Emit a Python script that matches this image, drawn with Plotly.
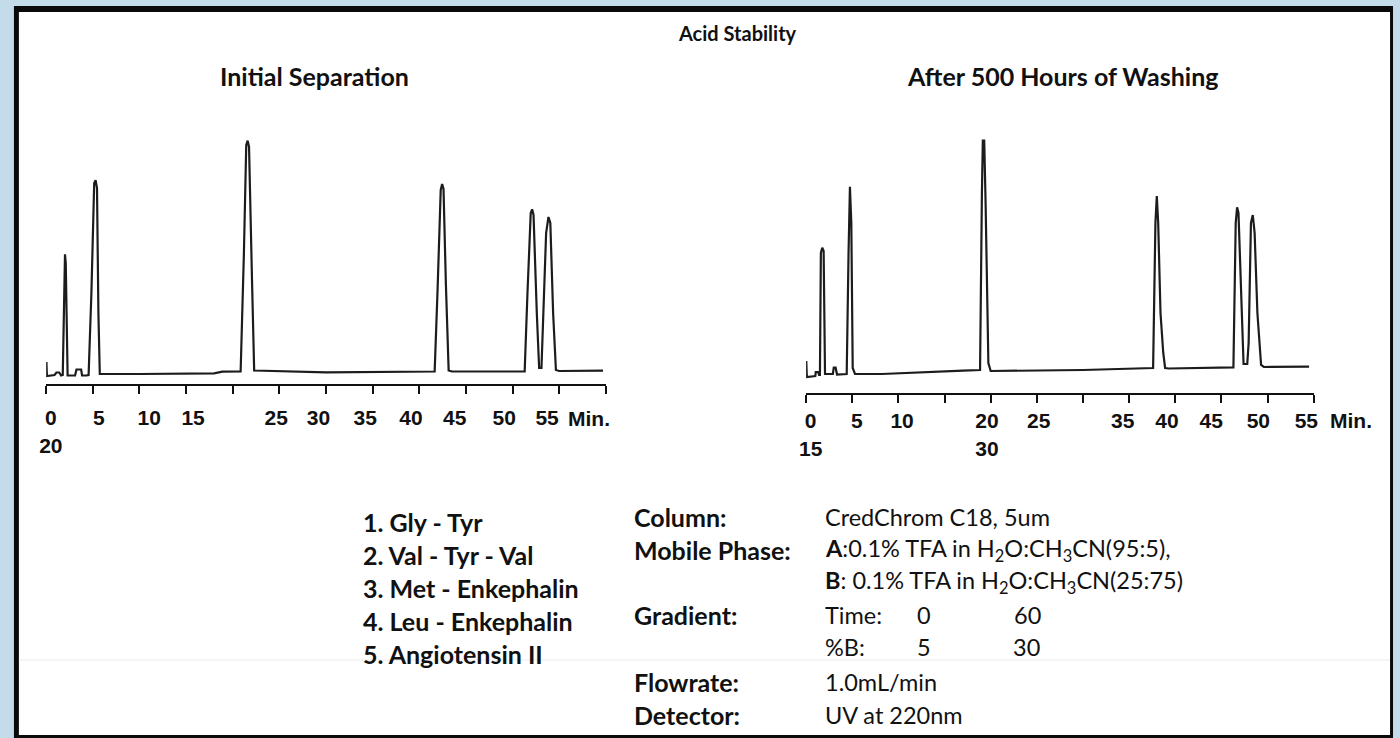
import plotly.graph_objects as go

W, H = 1400, 738

# ---------------- data ----------------
# Initial separation chromatogram: time (min) vs detector signal (arb. units)
left_time = [0.0, 0.03, 0.08, 0.9, 1.1, 1.4, 1.6, 1.78, 1.95, 2.02, 2.1, 2.3,
             3.1, 3.25, 3.75, 3.85, 4.3, 4.55, 4.85, 5.15, 5.3, 5.45, 5.6, 5.75,
             10.0, 15.0, 18.0, 18.9, 20.85, 21.2, 21.45, 21.6, 21.75, 22.05, 22.3,
             30.0, 41.65, 41.95, 42.3, 42.45, 42.6, 42.85, 43.15, 43.5,
             51.3, 51.6, 51.95, 52.1, 52.25, 52.6, 52.85, 53.1,
             53.2, 53.6, 53.85, 54.05, 54.35, 54.65, 55.0, 59.7]
left_signal = [-3, 11, -3, -2, 0.5, 0.5, -2.5, -2, 110, 118.7, 110, -2.5,
               -2.5, 3.5, 3.5, -2.5, -2.5, -2, 80, 190, 192.7, 185, 60, -1,
               -1, -1, -0.3, 1.3, 1.5, 120, 228, 232.3, 226, 100, 2.5,
               0.7, 1.5, 80, 183, 189, 184, 90, 2.5, 1.5,
               1.5, 80, 160, 163.7, 158, 60, 5, 5,
               30, 140, 156, 150, 60, 3, 2, 2.3]

# After 500 hours of washing
right_time = [0.0, 0.02, 0.08, 1.0, 1.05, 1.3, 1.4, 1.5, 1.6, 1.75, 1.9, 2.05,
              2.9, 3.0, 3.2, 3.35, 4.4, 4.6, 4.75, 4.9, 5.05, 5.3,
              8.2, 17.0, 18.85, 19.05, 19.15, 19.3, 19.45, 19.75, 20.0,
              30.0, 37.1, 37.6, 37.85, 38.0, 38.15, 38.4, 38.7, 38.9, 39.3,
              46.3, 46.55, 46.7, 46.85, 47.1, 47.4, 47.8,
              47.95, 48.2, 48.4, 48.6, 48.9, 49.3, 49.6, 54.5]
right_signal = [-4, 12, -4, -3, 1, 1, -2, -2, 120, 125.3, 122, -1,
                -1, 5.5, 5.5, -1.5, -1, 120, 186.3, 150, 5, -1,
                -1, 2.3, 3, 180, 232.3, 232.3, 170, 10, 2,
                3, 4.7, 5, 150, 177, 150, 60, 20, 5, 4.5,
                5.7, 150, 165.7, 160, 80, 9, 9,
                30, 150, 158, 140, 60, 8, 6, 6.3]

# axis tick labels as printed (and where they sit along each axis, in minutes)
left_tick_text = ["0<br>20", "5", "10", "15", "25", "30", "35", "40", "45", "50", "55"]
left_tick_pos = [0.5, 5.66, 11.05, 15.75, 24.66, 29.2, 34.2, 39.1, 43.8, 49.1, 53.7]
right_tick_text = ["0<br>15", "5", "10", "20<br>30", "25", "35", "40", "45", "50", "55"]
right_tick_pos = [0.5, 5.5, 10.4, 19.6, 25.2, 34.3, 39.1, 43.9, 49.0, 54.2]
axis_unit = "Min."

main_title = "Acid Stability"
left_title = "Initial Separation"
right_title = "After 500 Hours of Washing"

compounds = ["1. Gly - Tyr", "2. Val - Tyr - Val", "3. Met - Enkephalin",
             "4. Leu - Enkephalin", "5. Angiotensin II"]

cond_labels = ["Column:", "Mobile Phase:", "Gradient:", "Flowrate:", "Detector:"]
column_text = "CredChrom C18, 5um"
mobile_a = "<b>A</b>:0.1% TFA in H<sub>2</sub>O:CH<sub>3</sub>CN(95:5),"
mobile_b = "<b>B</b>: 0.1% TFA in H<sub>2</sub>O:CH<sub>3</sub>CN(25:75)"
gradient_head = ["Time:", "%B:"]
gradient_time = ["0", "60"]
gradient_b = ["5", "30"]
flowrate_text = "1.0mL/min"
detector_text = "UV at 220nm"

# ---------------- helpers ----------------
def X(px):
    return px / W

def Y(py):
    return 1 - py / H

TXT = "Lato"
INK = "#111111"
LINE = "#1c1c1c"
NUM = "Liberation Sans, Arial"

fig = go.Figure()
fig.add_trace(go.Scatter(x=left_time, y=left_signal, mode="lines",
                         line=dict(color=LINE, width=2.2), xaxis="x", yaxis="y",
                         hoverinfo="skip", showlegend=False))
fig.add_trace(go.Scatter(x=right_time, y=right_signal, mode="lines",
                         line=dict(color=LINE, width=2.2), xaxis="x2", yaxis="y2",
                         hoverinfo="skip", showlegend=False))

tickfont = dict(family=NUM, size=21, color=INK, weight="bold")
minor = dict(tickmode="linear", tick0=0, dtick=5, ticks="outside", ticklen=8,
             tickwidth=2, tickcolor=INK, showgrid=False)

common_x = dict(showline=True, linecolor=INK, linewidth=2, showgrid=False, zeroline=False,
                tickmode="array", ticks="outside", tickcolor="rgba(0,0,0,0)",
                tickfont=tickfont, minor=minor, fixedrange=True)

annotations = []

def note(text, px, py, size=23.5, bold=False, xanchor="left", color=INK, family=TXT, weight=None):
    f = dict(family=family, size=size, color=color)
    if weight:
        f["weight"] = weight
    annotations.append(dict(text=f"<b>{text}</b>" if bold else text, x=X(px), y=Y(py),
                            xref="paper", yref="paper", xanchor=xanchor, yanchor="middle",
                            showarrow=False, font=f))

note(main_title, 675, 33, size=20, bold=True)
note(left_title, 310, 76, size=25, bold=True, xanchor="center")
note(right_title, 1065, 76, size=25, bold=True, xanchor="center")

for i, c in enumerate(compounds):
    note(c, 357, 522 + 33 * i, size=25, bold=True)

label_rows = [517, 550, 615, 682, 715]
for lab, py in zip(cond_labels, label_rows):
    note(lab, 630, py, size=25, bold=True)

note(column_text, 823, 517)
note(mobile_a, 823, 550)
note(mobile_b, 823, 582)
note(gradient_head[0], 823, 615)
note(gradient_head[1], 823, 647)
for txt, px in zip(gradient_time, [925, 1029]):
    note(txt, px, 615, xanchor="center")
for txt, px in zip(gradient_b, [925, 1028]):
    note(txt, px, 647, xanchor="center")
note(flowrate_text, 823, 682)
note(detector_text, 823, 715)

# axis unit labels
note(axis_unit, 587, 418, family=NUM, size=21, xanchor="center", weight="bold")
note(axis_unit, 1356, 420, family=NUM, size=21, xanchor="center", weight="bold")

shapes = [
    dict(type="rect", xref="paper", yref="paper", x0=X(7), x1=X(1398), y0=Y(741), y1=Y(6),
         fillcolor="#0a0a0a", line=dict(width=0), layer="below"),
    dict(type="rect", xref="paper", yref="paper", x0=X(12), x1=X(1395), y0=Y(735), y1=Y(12),
         fillcolor="white", line=dict(width=0), layer="below"),
    dict(type="line", xref="paper", yref="paper", x0=X(12), x1=X(1395), y0=Y(660), y1=Y(660),
         line=dict(color="#ececec", width=1), layer="below"),
]

fig.update_layout(
    width=W, height=H, autosize=False,
    margin=dict(l=0, r=0, t=0, b=0),
    paper_bgcolor="#c4dcea", plot_bgcolor="rgba(0,0,0,0)",
    showlegend=False,
    xaxis=dict(domain=[X(39.5), X(604)], range=[0, 60], anchor="y",
               tickvals=left_tick_pos, ticktext=left_tick_text, ticklen=14, **common_x),
    yaxis=dict(domain=[Y(384), Y(130)], range=[-11, 243], visible=False, fixedrange=True),
    xaxis2=dict(domain=[X(806), X(1318)], range=[0, 55], anchor="y2",
                tickvals=right_tick_pos, ticktext=right_tick_text, ticklen=8, **common_x),
    yaxis2=dict(domain=[Y(393), Y(130)], range=[-20, 243], visible=False, fixedrange=True),
    annotations=annotations,
    shapes=shapes,
)

fig.write_html("out.html", config={"displayModeBar": False},
               post_script="document.body.style.margin='0px';document.body.style.overflow='hidden';")
